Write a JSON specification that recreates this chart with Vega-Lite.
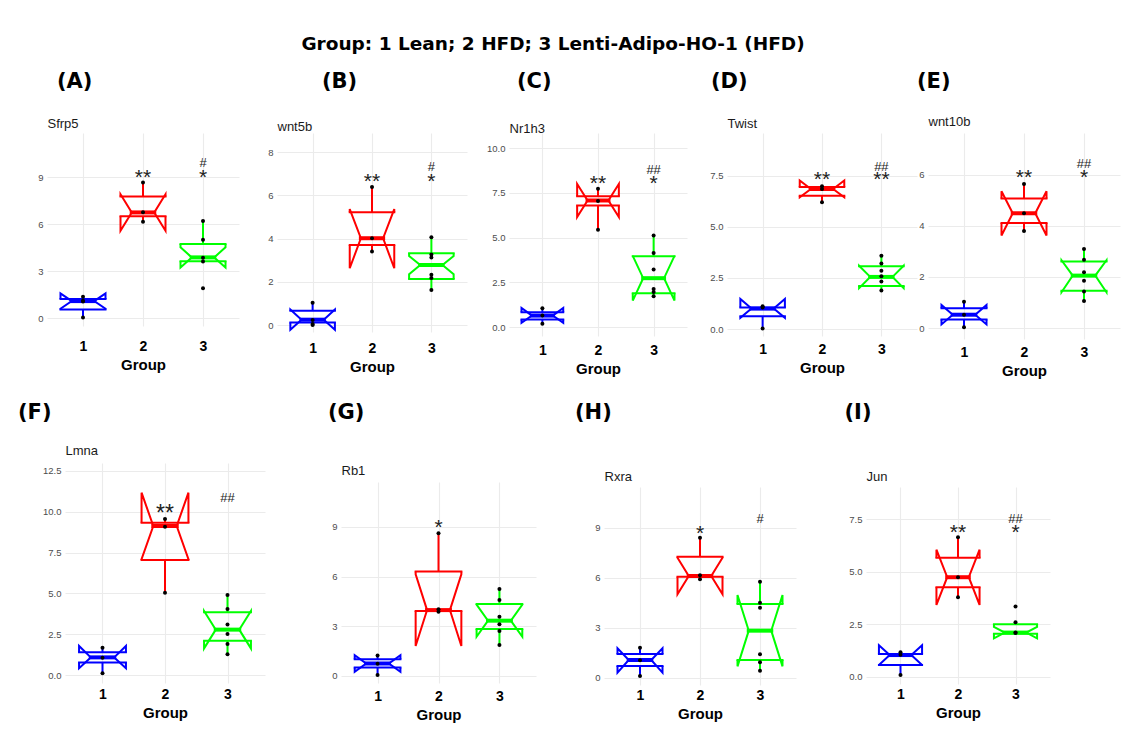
{
"$schema": "https://vega.github.io/schema/vega-lite/v6.json",
"padding": {"left": 18, "top": 34, "right": 5, "bottom": 5},
"background": "white",
"title": {"text": "Group: 1 Lean; 2 HFD; 3 Lenti-Adipo-HO-1 (HFD)", "anchor": "middle", "frame": "bounds", "dx": -16, "fontSize": 18.5, "font": "DejaVu Sans", "fontWeight": "bold", "offset": 18, "color": "#000000"},
"datasets": {
"box": [
{"p":"A","g":1,"lo":0.05,"q1":0.55,"nl":0.59,"med":1.08,"nu":1.57,"q3":1.21,"hi":1.36},
{"p":"A","g":2,"lo":6.15,"q1":6.49,"nl":5.57,"med":6.74,"nu":7.9,"q3":7.75,"hi":8.66},
{"p":"A","g":3,"lo":3.6,"q1":3.62,"nl":3.23,"med":3.87,"nu":4.51,"q3":4.72,"hi":6.19},
{"p":"B","g":1,"lo":0.0,"q1":0.12,"nl":-0.22,"med":0.25,"nu":0.72,"q3":0.66,"hi":1.03},
{"p":"B","g":2,"lo":3.4,"q1":3.71,"nl":2.63,"med":4.02,"nu":5.37,"q3":5.22,"hi":6.39},
{"p":"B","g":3,"lo":1.62,"q1":2.13,"nl":2.35,"med":2.78,"nu":3.2,"q3":3.33,"hi":4.06},
{"p":"C","g":1,"lo":0.19,"q1":0.43,"nl":0.24,"med":0.65,"nu":1.08,"q3":0.84,"hi":1.06},
{"p":"C","g":2,"lo":5.44,"q1":6.8,"nl":6.16,"med":7.08,"nu":8.0,"q3":7.32,"hi":7.73},
{"p":"C","g":3,"lo":1.73,"q1":1.9,"nl":1.49,"med":2.74,"nu":3.99,"q3":3.97,"hi":5.12},
{"p":"D","g":1,"lo":0.03,"q1":0.62,"nl":0.55,"med":1.0,"nu":1.47,"q3":1.06,"hi":1.11},
{"p":"D","g":2,"lo":6.2,"q1":6.52,"nl":6.45,"med":6.85,"nu":7.27,"q3":6.95,"hi":6.98},
{"p":"D","g":3,"lo":1.88,"q1":2.1,"nl":2.0,"med":2.55,"nu":3.1,"q3":3.07,"hi":3.59},
{"p":"E","g":1,"lo":0.03,"q1":0.33,"nl":0.14,"med":0.52,"nu":0.9,"q3":0.77,"hi":1.03},
{"p":"E","g":2,"lo":3.8,"q1":4.11,"nl":3.62,"med":4.49,"nu":5.35,"q3":5.07,"hi":5.63},
{"p":"E","g":3,"lo":1.06,"q1":1.46,"nl":1.4,"med":2.05,"nu":2.65,"q3":2.6,"hi":3.09},
{"p":"F","g":1,"lo":0.1,"q1":0.76,"nl":0.41,"med":1.08,"nu":1.78,"q3":1.39,"hi":1.67},
{"p":"F","g":2,"lo":5.04,"q1":7.05,"nl":7.09,"med":9.13,"nu":11.17,"q3":9.33,"hi":9.56},
{"p":"F","g":3,"lo":1.27,"q1":2.1,"nl":1.63,"med":2.78,"nu":3.92,"q3":3.84,"hi":4.9},
{"p":"G","g":1,"lo":0.08,"q1":0.5,"nl":0.24,"med":0.74,"nu":1.24,"q3":0.99,"hi":1.22},
{"p":"G","g":2,"lo":3.87,"q1":3.91,"nl":1.8,"med":3.97,"nu":6.14,"q3":6.3,"hi":8.62},
{"p":"G","g":3,"lo":1.86,"q1":2.82,"nl":2.36,"med":3.33,"nu":4.3,"q3":4.34,"hi":5.25},
{"p":"H","g":1,"lo":0.1,"q1":0.7,"nl":0.3,"med":1.06,"nu":1.76,"q3":1.42,"hi":1.8},
{"p":"H","g":2,"lo":5.9,"q1":6.05,"nl":5.0,"med":6.1,"nu":7.2,"q3":7.26,"hi":8.4},
{"p":"H","g":3,"lo":0.42,"q1":1.06,"nl":0.68,"med":2.82,"nu":4.96,"q3":4.42,"hi":5.76},
{"p":"I","g":1,"lo":0.08,"q1":0.56,"nl":0.56,"med":1.03,"nu":1.5,"q3":1.08,"hi":1.16},
{"p":"I","g":2,"lo":3.78,"q1":4.26,"nl":3.42,"med":4.74,"nu":6.05,"q3":5.67,"hi":6.64},
{"p":"I","g":3,"lo":2.05,"q1":2.05,"nl":1.83,"med":2.1,"nu":2.37,"q3":2.5,"hi":2.59}
],
"pts": [
{"p":"A","g":1,"y":0.04},{"p":"A","g":1,"y":1.06},{"p":"A","g":1,"y":1.1},{"p":"A","g":1,"y":1.35},
{"p":"A","g":2,"y":6.15},{"p":"A","g":2,"y":6.75},{"p":"A","g":2,"y":8.65},
{"p":"A","g":3,"y":1.9},{"p":"A","g":3,"y":3.6},{"p":"A","g":3,"y":3.85},{"p":"A","g":3,"y":5.0},{"p":"A","g":3,"y":6.2},
{"p":"B","g":1,"y":0.0},{"p":"B","g":1,"y":0.05},{"p":"B","g":1,"y":0.23},{"p":"B","g":1,"y":1.03},
{"p":"B","g":2,"y":3.4},{"p":"B","g":2,"y":4.02},{"p":"B","g":2,"y":6.39},
{"p":"B","g":3,"y":1.62},{"p":"B","g":3,"y":2.18},{"p":"B","g":3,"y":2.33},{"p":"B","g":3,"y":3.13},{"p":"B","g":3,"y":3.27},{"p":"B","g":3,"y":4.06},
{"p":"C","g":1,"y":0.19},{"p":"C","g":1,"y":0.65},{"p":"C","g":1,"y":1.06},
{"p":"C","g":2,"y":5.44},{"p":"C","g":2,"y":7.05},{"p":"C","g":2,"y":7.73},
{"p":"C","g":3,"y":1.73},{"p":"C","g":3,"y":1.97},{"p":"C","g":3,"y":2.14},{"p":"C","g":3,"y":3.22},{"p":"C","g":3,"y":4.15},{"p":"C","g":3,"y":5.12},
{"p":"D","g":1,"y":0.03},{"p":"D","g":1,"y":1.05},{"p":"D","g":1,"y":1.11},
{"p":"D","g":2,"y":6.2},{"p":"D","g":2,"y":6.85},{"p":"D","g":2,"y":6.98},
{"p":"D","g":3,"y":1.88},{"p":"D","g":3,"y":2.33},{"p":"D","g":3,"y":2.58},{"p":"D","g":3,"y":2.85},{"p":"D","g":3,"y":3.21},{"p":"D","g":3,"y":3.59},
{"p":"E","g":1,"y":0.03},{"p":"E","g":1,"y":0.52},{"p":"E","g":1,"y":1.03},
{"p":"E","g":2,"y":3.8},{"p":"E","g":2,"y":4.49},{"p":"E","g":2,"y":5.63},
{"p":"E","g":3,"y":1.06},{"p":"E","g":3,"y":1.43},{"p":"E","g":3,"y":1.85},{"p":"E","g":3,"y":2.18},{"p":"E","g":3,"y":2.67},{"p":"E","g":3,"y":3.09},
{"p":"F","g":1,"y":0.1},{"p":"F","g":1,"y":1.05},{"p":"F","g":1,"y":1.67},
{"p":"F","g":2,"y":5.04},{"p":"F","g":2,"y":9.09},{"p":"F","g":2,"y":9.56},
{"p":"F","g":3,"y":1.27},{"p":"F","g":3,"y":1.9},{"p":"F","g":3,"y":2.51},{"p":"F","g":3,"y":3.1},{"p":"F","g":3,"y":4.04},{"p":"F","g":3,"y":4.9},
{"p":"G","g":1,"y":0.05},{"p":"G","g":1,"y":0.72},{"p":"G","g":1,"y":1.22},
{"p":"G","g":2,"y":3.87},{"p":"G","g":2,"y":4.02},{"p":"G","g":2,"y":8.62},
{"p":"G","g":3,"y":1.86},{"p":"G","g":3,"y":2.7},{"p":"G","g":3,"y":3.11},{"p":"G","g":3,"y":3.57},{"p":"G","g":3,"y":4.58},{"p":"G","g":3,"y":5.25},
{"p":"H","g":1,"y":0.1},{"p":"H","g":1,"y":1.05},{"p":"H","g":1,"y":1.8},
{"p":"H","g":2,"y":5.9},{"p":"H","g":2,"y":6.14},{"p":"H","g":2,"y":8.4},
{"p":"H","g":3,"y":0.42},{"p":"H","g":3,"y":0.92},{"p":"H","g":3,"y":1.4},{"p":"H","g":3,"y":4.2},{"p":"H","g":3,"y":4.5},{"p":"H","g":3,"y":5.76},
{"p":"I","g":1,"y":0.08},{"p":"I","g":1,"y":1.05},{"p":"I","g":1,"y":1.16},
{"p":"I","g":2,"y":3.78},{"p":"I","g":2,"y":4.74},{"p":"I","g":2,"y":6.64},
{"p":"I","g":3,"y":2.08},{"p":"I","g":3,"y":2.1},{"p":"I","g":3,"y":2.59},{"p":"I","g":3,"y":3.34}
],
"ann": [
{"p":"A","g":2,"y":9.34,"t":"**"},{"p":"A","g":3,"y":9.94,"t":"#"},{"p":"A","g":3,"y":9.34,"t":"*"},
{"p":"B","g":2,"y":6.92,"t":"**"},{"p":"B","g":3,"y":7.35,"t":"#"},{"p":"B","g":3,"y":6.91,"t":"*"},
{"p":"C","g":2,"y":8.32,"t":"**"},{"p":"C","g":3,"y":8.85,"t":"##"},{"p":"C","g":3,"y":8.32,"t":"*"},
{"p":"D","g":2,"y":7.58,"t":"**"},{"p":"D","g":3,"y":7.96,"t":"##"},{"p":"D","g":3,"y":7.58,"t":"**"},
{"p":"E","g":2,"y":6.09,"t":"**"},{"p":"E","g":3,"y":6.44,"t":"##"},{"p":"E","g":3,"y":6.09,"t":"*"},
{"p":"F","g":2,"y":10.27,"t":"**"},{"p":"F","g":3,"y":10.89,"t":"##"},
{"p":"G","g":2,"y":9.32,"t":"*"},
{"p":"H","g":2,"y":9.0,"t":"*"},{"p":"H","g":3,"y":9.56,"t":"#"},
{"p":"I","g":2,"y":7.12,"t":"**"},{"p":"I","g":3,"y":7.55,"t":"##"},{"p":"I","g":3,"y":7.15,"t":"*"}
],
"none": []
},
"vconcat": [
{"hconcat": [
{"width": 192, "height": 193, "title": {"text": "(A)", "dx": 10, "offset": 24.6},
"layer": [
{"data": {"name": "box"}, "transform": [{"filter": "datum.p === 'A'"}, {"fold": ["lo","hi"], "as": ["k","v"]}, {"calculate": "datum.k === 'lo' ? datum.q1 : datum.q3", "as": "b"}],
"mark": {"type": "rule", "strokeWidth": 2},
"encoding": {"x": {"field": "g", "type": "quantitative", "scale": {"domain": [0.4, 3.6], "nice": false, "zero": false}, "axis": {"values": [1,2,3], "format": "d", "title": "Group", "labelPadding": 13}},
"y": {"field": "v", "type": "quantitative", "scale": {"domain": [-0.51, 11.81], "nice": false, "zero": false}, "axis": {"values": [0,1.5,3,4.5,6,7.5,9,10.5], "format": "d", "labelExpr": "indexof([0,3,6,9], datum.value) >= 0 ? datum.label : ''", "gridWidth": {"condition": {"test": "indexof([0,3,6,9], datum.value) < 0", "value": 0.55}, "value": 1.1}, "title": "Sfrp5", "titleX": 0, "titleY": -6, "minExtent": 29}},
"y2": {"field": "b"},
"color": {"field": "g", "type": "nominal", "scale": {"domain": [1,2,3], "range": ["#0000FF","#FF0000","#00FF00"]}, "legend": null}}},
{"data": {"name": "box"}, "transform": [{"filter": "datum.p === 'A'"}, {"fold": ["q1","nl","med","nu","q3"], "as": ["k","v"]}, {"calculate": "[-1, 1]", "as": "s"}, {"flatten": ["s"]}, {"calculate": "datum.g + datum.s * (datum.k === 'med' ? 0.1875 : 0.375)", "as": "xx"}, {"calculate": "indexof(['q1','nl','med','nu','q3'], datum.k)", "as": "o"}],
"mark": {"type": "line", "strokeWidth": 2, "strokeJoin": "miter"},
"encoding": {"x": {"field": "xx", "type": "quantitative", "scale": {"domain": [0.4, 3.6], "nice": false, "zero": false}},
"y": {"field": "v", "type": "quantitative", "scale": {"domain": [-0.51, 11.81], "nice": false, "zero": false}},
"order": {"field": "o", "type": "quantitative"}, "detail": {"field": "s", "type": "nominal"},
"color": {"field": "g", "type": "nominal", "scale": {"domain": [1,2,3], "range": ["#0000FF","#FF0000","#00FF00"]}, "legend": null}}},
{"data": {"name": "box"}, "transform": [{"filter": "datum.p === 'A'"}, {"fold": ["q1","q3","med"], "as": ["k","v"]}, {"calculate": "datum.k === 'med' ? 0.1875 : 0.375", "as": "hw"}, {"calculate": "datum.g - datum.hw", "as": "xl"}, {"calculate": "datum.g + datum.hw", "as": "xr"}],
"mark": {"type": "rule", "strokeCap": "square"},
"encoding": {"x": {"field": "xl", "type": "quantitative", "scale": {"domain": [0.4, 3.6], "nice": false, "zero": false}}, "x2": {"field": "xr"},
"y": {"field": "v", "type": "quantitative", "scale": {"domain": [-0.51, 11.81], "nice": false, "zero": false}},
"strokeWidth": {"condition": {"test": "datum.k === 'med'", "value": 4}, "value": 2},
"color": {"field": "g", "type": "nominal", "scale": {"domain": [1,2,3], "range": ["#0000FF","#FF0000","#00FF00"]}, "legend": null}}},
{"data": {"name": "pts"}, "transform": [{"filter": "datum.p === 'A'"}],
"mark": {"type": "circle", "size": 16, "color": "#000000", "opacity": 1},
"encoding": {"x": {"field": "g", "type": "quantitative", "scale": {"domain": [0.4, 3.6], "nice": false, "zero": false}},
"y": {"field": "y", "type": "quantitative", "scale": {"domain": [-0.51, 11.81], "nice": false, "zero": false}}}},
{"data": {"name": "ann"}, "transform": [{"filter": "datum.p === 'A' && indexof(datum.t, '*') >= 0"}],
"mark": {"type": "text", "font": "Liberation Sans", "fontSize": 21, "baseline": "alphabetic", "dy": 12, "color": "#222222"},
"encoding": {"x": {"field": "g", "type": "quantitative", "scale": {"domain": [0.4, 3.6], "nice": false, "zero": false}},
"y": {"field": "y", "type": "quantitative", "scale": {"domain": [-0.51, 11.81], "nice": false, "zero": false}}, "text": {"field": "t"}}},
{"data": {"name": "ann"}, "transform": [{"filter": "datum.p === 'A' && indexof(datum.t, '#') >= 0"}],
"mark": {"type": "text", "font": "Liberation Sans", "fontSize": 13, "baseline": "alphabetic", "dy": 4.7, "color": "#222222"},
"encoding": {"x": {"field": "g", "type": "quantitative", "scale": {"domain": [0.4, 3.6], "nice": false, "zero": false}},
"y": {"field": "y", "type": "quantitative", "scale": {"domain": [-0.51, 11.81], "nice": false, "zero": false}}, "text": {"field": "t"}}}
]},
{"width": 190, "height": 199, "title": {"text": "(B)", "dx": 45, "offset": 27.6},
"layer": [
{"data": {"name": "box"}, "transform": [{"filter": "datum.p === 'B'"}, {"fold": ["lo","hi"], "as": ["k","v"]}, {"calculate": "datum.k === 'lo' ? datum.q1 : datum.q3", "as": "b"}],
"mark": {"type": "rule", "strokeWidth": 2},
"encoding": {"x": {"field": "g", "type": "quantitative", "scale": {"domain": [0.4, 3.6], "nice": false, "zero": false}, "axis": {"values": [1,2,3], "format": "d", "title": "Group", "labelPadding": 9}},
"y": {"field": "v", "type": "quantitative", "scale": {"domain": [-0.32, 8.89], "nice": false, "zero": false}, "axis": {"values": [0,1,2,3,4,5,6,7,8], "format": "d", "labelExpr": "indexof([0,2,4,6,8], datum.value) >= 0 ? datum.label : ''", "gridWidth": {"condition": {"test": "indexof([0,2,4,6,8], datum.value) < 0", "value": 0.55}, "value": 1.1}, "title": "wnt5b", "titleX": 0, "titleY": -3, "minExtent": 38}},
"y2": {"field": "b"},
"color": {"field": "g", "type": "nominal", "scale": {"domain": [1,2,3], "range": ["#0000FF","#FF0000","#00FF00"]}, "legend": null}}},
{"data": {"name": "box"}, "transform": [{"filter": "datum.p === 'B'"}, {"fold": ["q1","nl","med","nu","q3"], "as": ["k","v"]}, {"calculate": "[-1, 1]", "as": "s"}, {"flatten": ["s"]}, {"calculate": "datum.g + datum.s * (datum.k === 'med' ? 0.1875 : 0.375)", "as": "xx"}, {"calculate": "indexof(['q1','nl','med','nu','q3'], datum.k)", "as": "o"}],
"mark": {"type": "line", "strokeWidth": 2, "strokeJoin": "miter"},
"encoding": {"x": {"field": "xx", "type": "quantitative", "scale": {"domain": [0.4, 3.6], "nice": false, "zero": false}},
"y": {"field": "v", "type": "quantitative", "scale": {"domain": [-0.32, 8.89], "nice": false, "zero": false}},
"order": {"field": "o", "type": "quantitative"}, "detail": {"field": "s", "type": "nominal"},
"color": {"field": "g", "type": "nominal", "scale": {"domain": [1,2,3], "range": ["#0000FF","#FF0000","#00FF00"]}, "legend": null}}},
{"data": {"name": "box"}, "transform": [{"filter": "datum.p === 'B'"}, {"fold": ["q1","q3","med"], "as": ["k","v"]}, {"calculate": "datum.k === 'med' ? 0.1875 : 0.375", "as": "hw"}, {"calculate": "datum.g - datum.hw", "as": "xl"}, {"calculate": "datum.g + datum.hw", "as": "xr"}],
"mark": {"type": "rule", "strokeCap": "square"},
"encoding": {"x": {"field": "xl", "type": "quantitative", "scale": {"domain": [0.4, 3.6], "nice": false, "zero": false}}, "x2": {"field": "xr"},
"y": {"field": "v", "type": "quantitative", "scale": {"domain": [-0.32, 8.89], "nice": false, "zero": false}},
"strokeWidth": {"condition": {"test": "datum.k === 'med'", "value": 4}, "value": 2},
"color": {"field": "g", "type": "nominal", "scale": {"domain": [1,2,3], "range": ["#0000FF","#FF0000","#00FF00"]}, "legend": null}}},
{"data": {"name": "pts"}, "transform": [{"filter": "datum.p === 'B'"}],
"mark": {"type": "circle", "size": 16, "color": "#000000", "opacity": 1},
"encoding": {"x": {"field": "g", "type": "quantitative", "scale": {"domain": [0.4, 3.6], "nice": false, "zero": false}},
"y": {"field": "y", "type": "quantitative", "scale": {"domain": [-0.32, 8.89], "nice": false, "zero": false}}}},
{"data": {"name": "ann"}, "transform": [{"filter": "datum.p === 'B' && indexof(datum.t, '*') >= 0"}],
"mark": {"type": "text", "font": "Liberation Sans", "fontSize": 21, "baseline": "alphabetic", "dy": 12, "color": "#222222"},
"encoding": {"x": {"field": "g", "type": "quantitative", "scale": {"domain": [0.4, 3.6], "nice": false, "zero": false}},
"y": {"field": "y", "type": "quantitative", "scale": {"domain": [-0.32, 8.89], "nice": false, "zero": false}}, "text": {"field": "t"}}},
{"data": {"name": "ann"}, "transform": [{"filter": "datum.p === 'B' && indexof(datum.t, '#') >= 0"}],
"mark": {"type": "text", "font": "Liberation Sans", "fontSize": 13, "baseline": "alphabetic", "dy": 4.7, "color": "#222222"},
"encoding": {"x": {"field": "g", "type": "quantitative", "scale": {"domain": [0.4, 3.6], "nice": false, "zero": false}},
"y": {"field": "y", "type": "quantitative", "scale": {"domain": [-0.32, 8.89], "nice": false, "zero": false}}, "text": {"field": "t"}}}
]},
{"width": 178, "height": 203, "title": {"text": "(C)", "dx": 8, "offset": 29.6},
"layer": [
{"data": {"name": "box"}, "transform": [{"filter": "datum.p === 'C'"}, {"fold": ["lo","hi"], "as": ["k","v"]}, {"calculate": "datum.k === 'lo' ? datum.q1 : datum.q3", "as": "b"}],
"mark": {"type": "rule", "strokeWidth": 2},
"encoding": {"x": {"field": "g", "type": "quantitative", "scale": {"domain": [0.4, 3.6], "nice": false, "zero": false}, "axis": {"values": [1,2,3], "format": "d", "title": "Group", "labelPadding": 7}},
"y": {"field": "v", "type": "quantitative", "scale": {"domain": [-0.49, 10.85], "nice": false, "zero": false}, "axis": {"values": [0,1.25,2.5,3.75,5,6.25,7.5,8.75,10], "format": ".1f", "labelExpr": "indexof([0,2.5,5,7.5,10], datum.value) >= 0 ? datum.label : ''", "gridWidth": {"condition": {"test": "indexof([0,2.5,5,7.5,10], datum.value) < 0", "value": 0.55}, "value": 1.1}, "title": "Nr1h3", "titleX": 0, "titleY": -1, "minExtent": 42}},
"y2": {"field": "b"},
"color": {"field": "g", "type": "nominal", "scale": {"domain": [1,2,3], "range": ["#0000FF","#FF0000","#00FF00"]}, "legend": null}}},
{"data": {"name": "box"}, "transform": [{"filter": "datum.p === 'C'"}, {"fold": ["q1","nl","med","nu","q3"], "as": ["k","v"]}, {"calculate": "[-1, 1]", "as": "s"}, {"flatten": ["s"]}, {"calculate": "datum.g + datum.s * (datum.k === 'med' ? 0.1875 : 0.375)", "as": "xx"}, {"calculate": "indexof(['q1','nl','med','nu','q3'], datum.k)", "as": "o"}],
"mark": {"type": "line", "strokeWidth": 2, "strokeJoin": "miter"},
"encoding": {"x": {"field": "xx", "type": "quantitative", "scale": {"domain": [0.4, 3.6], "nice": false, "zero": false}},
"y": {"field": "v", "type": "quantitative", "scale": {"domain": [-0.49, 10.85], "nice": false, "zero": false}},
"order": {"field": "o", "type": "quantitative"}, "detail": {"field": "s", "type": "nominal"},
"color": {"field": "g", "type": "nominal", "scale": {"domain": [1,2,3], "range": ["#0000FF","#FF0000","#00FF00"]}, "legend": null}}},
{"data": {"name": "box"}, "transform": [{"filter": "datum.p === 'C'"}, {"fold": ["q1","q3","med"], "as": ["k","v"]}, {"calculate": "datum.k === 'med' ? 0.1875 : 0.375", "as": "hw"}, {"calculate": "datum.g - datum.hw", "as": "xl"}, {"calculate": "datum.g + datum.hw", "as": "xr"}],
"mark": {"type": "rule", "strokeCap": "square"},
"encoding": {"x": {"field": "xl", "type": "quantitative", "scale": {"domain": [0.4, 3.6], "nice": false, "zero": false}}, "x2": {"field": "xr"},
"y": {"field": "v", "type": "quantitative", "scale": {"domain": [-0.49, 10.85], "nice": false, "zero": false}},
"strokeWidth": {"condition": {"test": "datum.k === 'med'", "value": 4}, "value": 2},
"color": {"field": "g", "type": "nominal", "scale": {"domain": [1,2,3], "range": ["#0000FF","#FF0000","#00FF00"]}, "legend": null}}},
{"data": {"name": "pts"}, "transform": [{"filter": "datum.p === 'C'"}],
"mark": {"type": "circle", "size": 16, "color": "#000000", "opacity": 1},
"encoding": {"x": {"field": "g", "type": "quantitative", "scale": {"domain": [0.4, 3.6], "nice": false, "zero": false}},
"y": {"field": "y", "type": "quantitative", "scale": {"domain": [-0.49, 10.85], "nice": false, "zero": false}}}},
{"data": {"name": "ann"}, "transform": [{"filter": "datum.p === 'C' && indexof(datum.t, '*') >= 0"}],
"mark": {"type": "text", "font": "Liberation Sans", "fontSize": 21, "baseline": "alphabetic", "dy": 12, "color": "#222222"},
"encoding": {"x": {"field": "g", "type": "quantitative", "scale": {"domain": [0.4, 3.6], "nice": false, "zero": false}},
"y": {"field": "y", "type": "quantitative", "scale": {"domain": [-0.49, 10.85], "nice": false, "zero": false}}, "text": {"field": "t"}}},
{"data": {"name": "ann"}, "transform": [{"filter": "datum.p === 'C' && indexof(datum.t, '#') >= 0"}],
"mark": {"type": "text", "font": "Liberation Sans", "fontSize": 13, "baseline": "alphabetic", "dy": 4.7, "color": "#222222"},
"encoding": {"x": {"field": "g", "type": "quantitative", "scale": {"domain": [0.4, 3.6], "nice": false, "zero": false}},
"y": {"field": "y", "type": "quantitative", "scale": {"domain": [-0.49, 10.85], "nice": false, "zero": false}}, "text": {"field": "t"}}}
]},
{"width": 190, "height": 203, "title": {"text": "(D)", "dx": -16, "offset": 24.6},
"layer": [
{"data": {"name": "box"}, "transform": [{"filter": "datum.p === 'D'"}, {"fold": ["lo","hi"], "as": ["k","v"]}, {"calculate": "datum.k === 'lo' ? datum.q1 : datum.q3", "as": "b"}],
"mark": {"type": "rule", "strokeWidth": 2},
"encoding": {"x": {"field": "g", "type": "quantitative", "scale": {"domain": [0.4, 3.6], "nice": false, "zero": false}, "axis": {"values": [1,2,3], "format": "d", "title": "Group", "labelPadding": 6}},
"y": {"field": "v", "type": "quantitative", "scale": {"domain": [-0.34, 9.59], "nice": false, "zero": false}, "axis": {"values": [0,1.25,2.5,3.75,5,6.25,7.5,8.75], "format": ".1f", "labelExpr": "indexof([0,2.5,5,7.5], datum.value) >= 0 ? datum.label : ''", "gridWidth": {"condition": {"test": "indexof([0,2.5,5,7.5], datum.value) < 0", "value": 0.55}, "value": 1.1}, "title": "Twist", "titleX": 0, "titleY": -6, "minExtent": 40}},
"y2": {"field": "b"},
"color": {"field": "g", "type": "nominal", "scale": {"domain": [1,2,3], "range": ["#0000FF","#FF0000","#00FF00"]}, "legend": null}}},
{"data": {"name": "box"}, "transform": [{"filter": "datum.p === 'D'"}, {"fold": ["q1","nl","med","nu","q3"], "as": ["k","v"]}, {"calculate": "[-1, 1]", "as": "s"}, {"flatten": ["s"]}, {"calculate": "datum.g + datum.s * (datum.k === 'med' ? 0.1875 : 0.375)", "as": "xx"}, {"calculate": "indexof(['q1','nl','med','nu','q3'], datum.k)", "as": "o"}],
"mark": {"type": "line", "strokeWidth": 2, "strokeJoin": "miter"},
"encoding": {"x": {"field": "xx", "type": "quantitative", "scale": {"domain": [0.4, 3.6], "nice": false, "zero": false}},
"y": {"field": "v", "type": "quantitative", "scale": {"domain": [-0.34, 9.59], "nice": false, "zero": false}},
"order": {"field": "o", "type": "quantitative"}, "detail": {"field": "s", "type": "nominal"},
"color": {"field": "g", "type": "nominal", "scale": {"domain": [1,2,3], "range": ["#0000FF","#FF0000","#00FF00"]}, "legend": null}}},
{"data": {"name": "box"}, "transform": [{"filter": "datum.p === 'D'"}, {"fold": ["q1","q3","med"], "as": ["k","v"]}, {"calculate": "datum.k === 'med' ? 0.1875 : 0.375", "as": "hw"}, {"calculate": "datum.g - datum.hw", "as": "xl"}, {"calculate": "datum.g + datum.hw", "as": "xr"}],
"mark": {"type": "rule", "strokeCap": "square"},
"encoding": {"x": {"field": "xl", "type": "quantitative", "scale": {"domain": [0.4, 3.6], "nice": false, "zero": false}}, "x2": {"field": "xr"},
"y": {"field": "v", "type": "quantitative", "scale": {"domain": [-0.34, 9.59], "nice": false, "zero": false}},
"strokeWidth": {"condition": {"test": "datum.k === 'med'", "value": 4}, "value": 2},
"color": {"field": "g", "type": "nominal", "scale": {"domain": [1,2,3], "range": ["#0000FF","#FF0000","#00FF00"]}, "legend": null}}},
{"data": {"name": "pts"}, "transform": [{"filter": "datum.p === 'D'"}],
"mark": {"type": "circle", "size": 16, "color": "#000000", "opacity": 1},
"encoding": {"x": {"field": "g", "type": "quantitative", "scale": {"domain": [0.4, 3.6], "nice": false, "zero": false}},
"y": {"field": "y", "type": "quantitative", "scale": {"domain": [-0.34, 9.59], "nice": false, "zero": false}}}},
{"data": {"name": "ann"}, "transform": [{"filter": "datum.p === 'D' && indexof(datum.t, '*') >= 0"}],
"mark": {"type": "text", "font": "Liberation Sans", "fontSize": 21, "baseline": "alphabetic", "dy": 12, "color": "#222222"},
"encoding": {"x": {"field": "g", "type": "quantitative", "scale": {"domain": [0.4, 3.6], "nice": false, "zero": false}},
"y": {"field": "y", "type": "quantitative", "scale": {"domain": [-0.34, 9.59], "nice": false, "zero": false}}, "text": {"field": "t"}}},
{"data": {"name": "ann"}, "transform": [{"filter": "datum.p === 'D' && indexof(datum.t, '#') >= 0"}],
"mark": {"type": "text", "font": "Liberation Sans", "fontSize": 13, "baseline": "alphabetic", "dy": 4.7, "color": "#222222"},
"encoding": {"x": {"field": "g", "type": "quantitative", "scale": {"domain": [0.4, 3.6], "nice": false, "zero": false}},
"y": {"field": "y", "type": "quantitative", "scale": {"domain": [-0.34, 9.59], "nice": false, "zero": false}}, "text": {"field": "t"}}}
]},
{"width": 192, "height": 206, "title": {"text": "(E)", "dx": -11, "offset": 22.6},
"layer": [
{"data": {"name": "box"}, "transform": [{"filter": "datum.p === 'E'"}, {"fold": ["lo","hi"], "as": ["k","v"]}, {"calculate": "datum.k === 'lo' ? datum.q1 : datum.q3", "as": "b"}],
"mark": {"type": "rule", "strokeWidth": 2},
"encoding": {"x": {"field": "g", "type": "quantitative", "scale": {"domain": [0.4, 3.6], "nice": false, "zero": false}, "axis": {"values": [1,2,3], "format": "d", "title": "Group", "labelPadding": 6}},
"y": {"field": "v", "type": "quantitative", "scale": {"domain": [-0.43, 7.63], "nice": false, "zero": false}, "axis": {"values": [0,1,2,3,4,5,6,7], "format": "d", "labelExpr": "indexof([0,2,4,6], datum.value) >= 0 ? datum.label : ''", "gridWidth": {"condition": {"test": "indexof([0,2,4,6], datum.value) < 0", "value": 0.55}, "value": 1.1}, "title": "wnt10b", "titleX": 0, "titleY": -8, "minExtent": 11}},
"y2": {"field": "b"},
"color": {"field": "g", "type": "nominal", "scale": {"domain": [1,2,3], "range": ["#0000FF","#FF0000","#00FF00"]}, "legend": null}}},
{"data": {"name": "box"}, "transform": [{"filter": "datum.p === 'E'"}, {"fold": ["q1","nl","med","nu","q3"], "as": ["k","v"]}, {"calculate": "[-1, 1]", "as": "s"}, {"flatten": ["s"]}, {"calculate": "datum.g + datum.s * (datum.k === 'med' ? 0.1875 : 0.375)", "as": "xx"}, {"calculate": "indexof(['q1','nl','med','nu','q3'], datum.k)", "as": "o"}],
"mark": {"type": "line", "strokeWidth": 2, "strokeJoin": "miter"},
"encoding": {"x": {"field": "xx", "type": "quantitative", "scale": {"domain": [0.4, 3.6], "nice": false, "zero": false}},
"y": {"field": "v", "type": "quantitative", "scale": {"domain": [-0.43, 7.63], "nice": false, "zero": false}},
"order": {"field": "o", "type": "quantitative"}, "detail": {"field": "s", "type": "nominal"},
"color": {"field": "g", "type": "nominal", "scale": {"domain": [1,2,3], "range": ["#0000FF","#FF0000","#00FF00"]}, "legend": null}}},
{"data": {"name": "box"}, "transform": [{"filter": "datum.p === 'E'"}, {"fold": ["q1","q3","med"], "as": ["k","v"]}, {"calculate": "datum.k === 'med' ? 0.1875 : 0.375", "as": "hw"}, {"calculate": "datum.g - datum.hw", "as": "xl"}, {"calculate": "datum.g + datum.hw", "as": "xr"}],
"mark": {"type": "rule", "strokeCap": "square"},
"encoding": {"x": {"field": "xl", "type": "quantitative", "scale": {"domain": [0.4, 3.6], "nice": false, "zero": false}}, "x2": {"field": "xr"},
"y": {"field": "v", "type": "quantitative", "scale": {"domain": [-0.43, 7.63], "nice": false, "zero": false}},
"strokeWidth": {"condition": {"test": "datum.k === 'med'", "value": 4}, "value": 2},
"color": {"field": "g", "type": "nominal", "scale": {"domain": [1,2,3], "range": ["#0000FF","#FF0000","#00FF00"]}, "legend": null}}},
{"data": {"name": "pts"}, "transform": [{"filter": "datum.p === 'E'"}],
"mark": {"type": "circle", "size": 16, "color": "#000000", "opacity": 1},
"encoding": {"x": {"field": "g", "type": "quantitative", "scale": {"domain": [0.4, 3.6], "nice": false, "zero": false}},
"y": {"field": "y", "type": "quantitative", "scale": {"domain": [-0.43, 7.63], "nice": false, "zero": false}}}},
{"data": {"name": "ann"}, "transform": [{"filter": "datum.p === 'E' && indexof(datum.t, '*') >= 0"}],
"mark": {"type": "text", "font": "Liberation Sans", "fontSize": 21, "baseline": "alphabetic", "dy": 12, "color": "#222222"},
"encoding": {"x": {"field": "g", "type": "quantitative", "scale": {"domain": [0.4, 3.6], "nice": false, "zero": false}},
"y": {"field": "y", "type": "quantitative", "scale": {"domain": [-0.43, 7.63], "nice": false, "zero": false}}, "text": {"field": "t"}}},
{"data": {"name": "ann"}, "transform": [{"filter": "datum.p === 'E' && indexof(datum.t, '#') >= 0"}],
"mark": {"type": "text", "font": "Liberation Sans", "fontSize": 13, "baseline": "alphabetic", "dy": 4.7, "color": "#222222"},
"encoding": {"x": {"field": "g", "type": "quantitative", "scale": {"domain": [0.4, 3.6], "nice": false, "zero": false}},
"y": {"field": "y", "type": "quantitative", "scale": {"domain": [-0.43, 7.63], "nice": false, "zero": false}}, "text": {"field": "t"}}}
]}
], "spacing": 0},
{"hconcat": [
{"width": 5, "height": 1, "title": {"text": "(F)", "dx": -29, "offset": 40.1}, "data": {"name": "none"}, "mark": "point"},
{"width": 200, "height": 220,
"layer": [
{"data": {"name": "box"}, "transform": [{"filter": "datum.p === 'F'"}, {"fold": ["lo","hi"], "as": ["k","v"]}, {"calculate": "datum.k === 'lo' ? datum.q1 : datum.q3", "as": "b"}],
"mark": {"type": "rule", "strokeWidth": 2},
"encoding": {"x": {"field": "g", "type": "quantitative", "scale": {"domain": [0.4, 3.6], "nice": false, "zero": false}, "axis": {"values": [1,2,3], "format": "d", "title": "Group", "labelPadding": 4}},
"y": {"field": "v", "type": "quantitative", "scale": {"domain": [-0.49, 12.99], "nice": false, "zero": false}, "axis": {"values": [0,1.25,2.5,3.75,5,6.25,7.5,8.75,10,11.25,12.5], "format": ".1f", "labelExpr": "indexof([0,2.5,5,7.5,10,12.5], datum.value) >= 0 ? datum.label : ''", "gridWidth": {"condition": {"test": "indexof([0,2.5,5,7.5,10,12.5], datum.value) < 0", "value": 0.55}, "value": 1.1}, "title": "Lmna", "titleX": 0, "titleY": -9, "minExtent": 22.5}},
"y2": {"field": "b"},
"color": {"field": "g", "type": "nominal", "scale": {"domain": [1,2,3], "range": ["#0000FF","#FF0000","#00FF00"]}, "legend": null}}},
{"data": {"name": "box"}, "transform": [{"filter": "datum.p === 'F'"}, {"fold": ["q1","nl","med","nu","q3"], "as": ["k","v"]}, {"calculate": "[-1, 1]", "as": "s"}, {"flatten": ["s"]}, {"calculate": "datum.g + datum.s * (datum.k === 'med' ? 0.1875 : 0.375)", "as": "xx"}, {"calculate": "indexof(['q1','nl','med','nu','q3'], datum.k)", "as": "o"}],
"mark": {"type": "line", "strokeWidth": 2, "strokeJoin": "miter"},
"encoding": {"x": {"field": "xx", "type": "quantitative", "scale": {"domain": [0.4, 3.6], "nice": false, "zero": false}},
"y": {"field": "v", "type": "quantitative", "scale": {"domain": [-0.49, 12.99], "nice": false, "zero": false}},
"order": {"field": "o", "type": "quantitative"}, "detail": {"field": "s", "type": "nominal"},
"color": {"field": "g", "type": "nominal", "scale": {"domain": [1,2,3], "range": ["#0000FF","#FF0000","#00FF00"]}, "legend": null}}},
{"data": {"name": "box"}, "transform": [{"filter": "datum.p === 'F'"}, {"fold": ["q1","q3","med"], "as": ["k","v"]}, {"calculate": "datum.k === 'med' ? 0.1875 : 0.375", "as": "hw"}, {"calculate": "datum.g - datum.hw", "as": "xl"}, {"calculate": "datum.g + datum.hw", "as": "xr"}],
"mark": {"type": "rule", "strokeCap": "square"},
"encoding": {"x": {"field": "xl", "type": "quantitative", "scale": {"domain": [0.4, 3.6], "nice": false, "zero": false}}, "x2": {"field": "xr"},
"y": {"field": "v", "type": "quantitative", "scale": {"domain": [-0.49, 12.99], "nice": false, "zero": false}},
"strokeWidth": {"condition": {"test": "datum.k === 'med'", "value": 4}, "value": 2},
"color": {"field": "g", "type": "nominal", "scale": {"domain": [1,2,3], "range": ["#0000FF","#FF0000","#00FF00"]}, "legend": null}}},
{"data": {"name": "pts"}, "transform": [{"filter": "datum.p === 'F'"}],
"mark": {"type": "circle", "size": 16, "color": "#000000", "opacity": 1},
"encoding": {"x": {"field": "g", "type": "quantitative", "scale": {"domain": [0.4, 3.6], "nice": false, "zero": false}},
"y": {"field": "y", "type": "quantitative", "scale": {"domain": [-0.49, 12.99], "nice": false, "zero": false}}}},
{"data": {"name": "ann"}, "transform": [{"filter": "datum.p === 'F' && indexof(datum.t, '*') >= 0"}],
"mark": {"type": "text", "font": "Liberation Sans", "fontSize": 23, "baseline": "alphabetic", "dy": 13.2, "color": "#222222"},
"encoding": {"x": {"field": "g", "type": "quantitative", "scale": {"domain": [0.4, 3.6], "nice": false, "zero": false}},
"y": {"field": "y", "type": "quantitative", "scale": {"domain": [-0.49, 12.99], "nice": false, "zero": false}}, "text": {"field": "t"}}},
{"data": {"name": "ann"}, "transform": [{"filter": "datum.p === 'F' && indexof(datum.t, '#') >= 0"}],
"mark": {"type": "text", "font": "Liberation Sans", "fontSize": 13, "baseline": "alphabetic", "dy": 4.7, "color": "#222222"},
"encoding": {"x": {"field": "g", "type": "quantitative", "scale": {"domain": [0.4, 3.6], "nice": false, "zero": false}},
"y": {"field": "y", "type": "quantitative", "scale": {"domain": [-0.49, 12.99], "nice": false, "zero": false}}, "text": {"field": "t"}}}
]},
{"vconcat": [
{"width": 195, "height": 0.5, "title": {"text": "(G)", "dx": -13, "offset": 40.1}, "data": {"name": "none"}, "mark": "point"},
{"width": 195, "height": 201,
"layer": [
{"data": {"name": "box"}, "transform": [{"filter": "datum.p === 'G'"}, {"fold": ["lo","hi"], "as": ["k","v"]}, {"calculate": "datum.k === 'lo' ? datum.q1 : datum.q3", "as": "b"}],
"mark": {"type": "rule", "strokeWidth": 2},
"encoding": {"x": {"field": "g", "type": "quantitative", "scale": {"domain": [0.4, 3.6], "nice": false, "zero": false}, "axis": {"values": [1,2,3], "format": "d", "title": "Group", "labelPadding": 6}},
"y": {"field": "v", "type": "quantitative", "scale": {"domain": [-0.44, 11.72], "nice": false, "zero": false}, "axis": {"values": [0,1.5,3,4.5,6,7.5,9,10.5], "format": "d", "labelExpr": "indexof([0,3,6,9], datum.value) >= 0 ? datum.label : ''", "gridWidth": {"condition": {"test": "indexof([0,3,6,9], datum.value) < 0", "value": 0.55}, "value": 1.1}, "title": "Rb1", "titleX": 0, "titleY": -8, "minExtent": 86}},
"y2": {"field": "b"},
"color": {"field": "g", "type": "nominal", "scale": {"domain": [1,2,3], "range": ["#0000FF","#FF0000","#00FF00"]}, "legend": null}}},
{"data": {"name": "box"}, "transform": [{"filter": "datum.p === 'G'"}, {"fold": ["q1","nl","med","nu","q3"], "as": ["k","v"]}, {"calculate": "[-1, 1]", "as": "s"}, {"flatten": ["s"]}, {"calculate": "datum.g + datum.s * (datum.k === 'med' ? 0.1875 : 0.375)", "as": "xx"}, {"calculate": "indexof(['q1','nl','med','nu','q3'], datum.k)", "as": "o"}],
"mark": {"type": "line", "strokeWidth": 2, "strokeJoin": "miter"},
"encoding": {"x": {"field": "xx", "type": "quantitative", "scale": {"domain": [0.4, 3.6], "nice": false, "zero": false}},
"y": {"field": "v", "type": "quantitative", "scale": {"domain": [-0.44, 11.72], "nice": false, "zero": false}},
"order": {"field": "o", "type": "quantitative"}, "detail": {"field": "s", "type": "nominal"},
"color": {"field": "g", "type": "nominal", "scale": {"domain": [1,2,3], "range": ["#0000FF","#FF0000","#00FF00"]}, "legend": null}}},
{"data": {"name": "box"}, "transform": [{"filter": "datum.p === 'G'"}, {"fold": ["q1","q3","med"], "as": ["k","v"]}, {"calculate": "datum.k === 'med' ? 0.1875 : 0.375", "as": "hw"}, {"calculate": "datum.g - datum.hw", "as": "xl"}, {"calculate": "datum.g + datum.hw", "as": "xr"}],
"mark": {"type": "rule", "strokeCap": "square"},
"encoding": {"x": {"field": "xl", "type": "quantitative", "scale": {"domain": [0.4, 3.6], "nice": false, "zero": false}}, "x2": {"field": "xr"},
"y": {"field": "v", "type": "quantitative", "scale": {"domain": [-0.44, 11.72], "nice": false, "zero": false}},
"strokeWidth": {"condition": {"test": "datum.k === 'med'", "value": 4}, "value": 2},
"color": {"field": "g", "type": "nominal", "scale": {"domain": [1,2,3], "range": ["#0000FF","#FF0000","#00FF00"]}, "legend": null}}},
{"data": {"name": "pts"}, "transform": [{"filter": "datum.p === 'G'"}],
"mark": {"type": "circle", "size": 16, "color": "#000000", "opacity": 1},
"encoding": {"x": {"field": "g", "type": "quantitative", "scale": {"domain": [0.4, 3.6], "nice": false, "zero": false}},
"y": {"field": "y", "type": "quantitative", "scale": {"domain": [-0.44, 11.72], "nice": false, "zero": false}}}},
{"data": {"name": "ann"}, "transform": [{"filter": "datum.p === 'G' && indexof(datum.t, '*') >= 0"}],
"mark": {"type": "text", "font": "Liberation Sans", "fontSize": 21, "baseline": "alphabetic", "dy": 12, "color": "#222222"},
"encoding": {"x": {"field": "g", "type": "quantitative", "scale": {"domain": [0.4, 3.6], "nice": false, "zero": false}},
"y": {"field": "y", "type": "quantitative", "scale": {"domain": [-0.44, 11.72], "nice": false, "zero": false}}, "text": {"field": "t"}}}
]}
], "spacing": 0},
{"vconcat": [
{"width": 192, "height": 6.5, "title": {"text": "(H)", "dx": -29, "offset": 40.1}, "data": {"name": "none"}, "mark": "point"},
{"width": 192, "height": 198,
"layer": [
{"data": {"name": "box"}, "transform": [{"filter": "datum.p === 'H'"}, {"fold": ["lo","hi"], "as": ["k","v"]}, {"calculate": "datum.k === 'lo' ? datum.q1 : datum.q3", "as": "b"}],
"mark": {"type": "rule", "strokeWidth": 2},
"encoding": {"x": {"field": "g", "type": "quantitative", "scale": {"domain": [0.4, 3.6], "nice": false, "zero": false}, "axis": {"values": [1,2,3], "format": "d", "title": "Group", "labelPadding": 3}},
"y": {"field": "v", "type": "quantitative", "scale": {"domain": [-0.44, 11.44], "nice": false, "zero": false}, "axis": {"values": [0,1.5,3,4.5,6,7.5,9,10.5], "format": "d", "labelExpr": "indexof([0,3,6,9], datum.value) >= 0 ? datum.label : ''", "gridWidth": {"condition": {"test": "indexof([0,3,6,9], datum.value) < 0", "value": 0.55}, "value": 1.1}, "title": "Rxra", "titleX": 0, "titleY": -7, "minExtent": 78}},
"y2": {"field": "b"},
"color": {"field": "g", "type": "nominal", "scale": {"domain": [1,2,3], "range": ["#0000FF","#FF0000","#00FF00"]}, "legend": null}}},
{"data": {"name": "box"}, "transform": [{"filter": "datum.p === 'H'"}, {"fold": ["q1","nl","med","nu","q3"], "as": ["k","v"]}, {"calculate": "[-1, 1]", "as": "s"}, {"flatten": ["s"]}, {"calculate": "datum.g + datum.s * (datum.k === 'med' ? 0.1875 : 0.375)", "as": "xx"}, {"calculate": "indexof(['q1','nl','med','nu','q3'], datum.k)", "as": "o"}],
"mark": {"type": "line", "strokeWidth": 2, "strokeJoin": "miter"},
"encoding": {"x": {"field": "xx", "type": "quantitative", "scale": {"domain": [0.4, 3.6], "nice": false, "zero": false}},
"y": {"field": "v", "type": "quantitative", "scale": {"domain": [-0.44, 11.44], "nice": false, "zero": false}},
"order": {"field": "o", "type": "quantitative"}, "detail": {"field": "s", "type": "nominal"},
"color": {"field": "g", "type": "nominal", "scale": {"domain": [1,2,3], "range": ["#0000FF","#FF0000","#00FF00"]}, "legend": null}}},
{"data": {"name": "box"}, "transform": [{"filter": "datum.p === 'H'"}, {"fold": ["q1","q3","med"], "as": ["k","v"]}, {"calculate": "datum.k === 'med' ? 0.1875 : 0.375", "as": "hw"}, {"calculate": "datum.g - datum.hw", "as": "xl"}, {"calculate": "datum.g + datum.hw", "as": "xr"}],
"mark": {"type": "rule", "strokeCap": "square"},
"encoding": {"x": {"field": "xl", "type": "quantitative", "scale": {"domain": [0.4, 3.6], "nice": false, "zero": false}}, "x2": {"field": "xr"},
"y": {"field": "v", "type": "quantitative", "scale": {"domain": [-0.44, 11.44], "nice": false, "zero": false}},
"strokeWidth": {"condition": {"test": "datum.k === 'med'", "value": 4}, "value": 2},
"color": {"field": "g", "type": "nominal", "scale": {"domain": [1,2,3], "range": ["#0000FF","#FF0000","#00FF00"]}, "legend": null}}},
{"data": {"name": "pts"}, "transform": [{"filter": "datum.p === 'H'"}],
"mark": {"type": "circle", "size": 16, "color": "#000000", "opacity": 1},
"encoding": {"x": {"field": "g", "type": "quantitative", "scale": {"domain": [0.4, 3.6], "nice": false, "zero": false}},
"y": {"field": "y", "type": "quantitative", "scale": {"domain": [-0.44, 11.44], "nice": false, "zero": false}}}},
{"data": {"name": "ann"}, "transform": [{"filter": "datum.p === 'H' && indexof(datum.t, '*') >= 0"}],
"mark": {"type": "text", "font": "Liberation Sans", "fontSize": 21, "baseline": "alphabetic", "dy": 12, "color": "#222222"},
"encoding": {"x": {"field": "g", "type": "quantitative", "scale": {"domain": [0.4, 3.6], "nice": false, "zero": false}},
"y": {"field": "y", "type": "quantitative", "scale": {"domain": [-0.44, 11.44], "nice": false, "zero": false}}, "text": {"field": "t"}}},
{"data": {"name": "ann"}, "transform": [{"filter": "datum.p === 'H' && indexof(datum.t, '#') >= 0"}],
"mark": {"type": "text", "font": "Liberation Sans", "fontSize": 13, "baseline": "alphabetic", "dy": 4.7, "color": "#222222"},
"encoding": {"x": {"field": "g", "type": "quantitative", "scale": {"domain": [0.4, 3.6], "nice": false, "zero": false}},
"y": {"field": "y", "type": "quantitative", "scale": {"domain": [-0.44, 11.44], "nice": false, "zero": false}}, "text": {"field": "t"}}}
]}
], "spacing": 0},
{"vconcat": [
{"width": 184, "height": 6.5, "title": {"text": "(I)", "dx": -21.5, "offset": 40.1}, "data": {"name": "none"}, "mark": "point"},
{"width": 184, "height": 197,
"layer": [
{"data": {"name": "box"}, "transform": [{"filter": "datum.p === 'I'"}, {"fold": ["lo","hi"], "as": ["k","v"]}, {"calculate": "datum.k === 'lo' ? datum.q1 : datum.q3", "as": "b"}],
"mark": {"type": "rule", "strokeWidth": 2},
"encoding": {"x": {"field": "g", "type": "quantitative", "scale": {"domain": [0.4, 3.6], "nice": false, "zero": false}, "axis": {"values": [1,2,3], "format": "d", "title": "Group", "labelPadding": 3}},
"y": {"field": "v", "type": "quantitative", "scale": {"domain": [-0.35, 9.04], "nice": false, "zero": false}, "axis": {"values": [0,1.25,2.5,3.75,5,6.25,7.5,8.75], "format": ".1f", "labelExpr": "indexof([0,2.5,5,7.5], datum.value) >= 0 ? datum.label : ''", "gridWidth": {"condition": {"test": "indexof([0,2.5,5,7.5], datum.value) < 0", "value": 0.55}, "value": 1.1}, "title": "Jun", "titleX": 0, "titleY": -7, "minExtent": 79.5}},
"y2": {"field": "b"},
"color": {"field": "g", "type": "nominal", "scale": {"domain": [1,2,3], "range": ["#0000FF","#FF0000","#00FF00"]}, "legend": null}}},
{"data": {"name": "box"}, "transform": [{"filter": "datum.p === 'I'"}, {"fold": ["q1","nl","med","nu","q3"], "as": ["k","v"]}, {"calculate": "[-1, 1]", "as": "s"}, {"flatten": ["s"]}, {"calculate": "datum.g + datum.s * (datum.k === 'med' ? 0.1875 : 0.375)", "as": "xx"}, {"calculate": "indexof(['q1','nl','med','nu','q3'], datum.k)", "as": "o"}],
"mark": {"type": "line", "strokeWidth": 2, "strokeJoin": "miter"},
"encoding": {"x": {"field": "xx", "type": "quantitative", "scale": {"domain": [0.4, 3.6], "nice": false, "zero": false}},
"y": {"field": "v", "type": "quantitative", "scale": {"domain": [-0.35, 9.04], "nice": false, "zero": false}},
"order": {"field": "o", "type": "quantitative"}, "detail": {"field": "s", "type": "nominal"},
"color": {"field": "g", "type": "nominal", "scale": {"domain": [1,2,3], "range": ["#0000FF","#FF0000","#00FF00"]}, "legend": null}}},
{"data": {"name": "box"}, "transform": [{"filter": "datum.p === 'I'"}, {"fold": ["q1","q3","med"], "as": ["k","v"]}, {"calculate": "datum.k === 'med' ? 0.1875 : 0.375", "as": "hw"}, {"calculate": "datum.g - datum.hw", "as": "xl"}, {"calculate": "datum.g + datum.hw", "as": "xr"}],
"mark": {"type": "rule", "strokeCap": "square"},
"encoding": {"x": {"field": "xl", "type": "quantitative", "scale": {"domain": [0.4, 3.6], "nice": false, "zero": false}}, "x2": {"field": "xr"},
"y": {"field": "v", "type": "quantitative", "scale": {"domain": [-0.35, 9.04], "nice": false, "zero": false}},
"strokeWidth": {"condition": {"test": "datum.k === 'med'", "value": 4}, "value": 2},
"color": {"field": "g", "type": "nominal", "scale": {"domain": [1,2,3], "range": ["#0000FF","#FF0000","#00FF00"]}, "legend": null}}},
{"data": {"name": "pts"}, "transform": [{"filter": "datum.p === 'I'"}],
"mark": {"type": "circle", "size": 16, "color": "#000000", "opacity": 1},
"encoding": {"x": {"field": "g", "type": "quantitative", "scale": {"domain": [0.4, 3.6], "nice": false, "zero": false}},
"y": {"field": "y", "type": "quantitative", "scale": {"domain": [-0.35, 9.04], "nice": false, "zero": false}}}},
{"data": {"name": "ann"}, "transform": [{"filter": "datum.p === 'I' && indexof(datum.t, '*') >= 0"}],
"mark": {"type": "text", "font": "Liberation Sans", "fontSize": 21, "baseline": "alphabetic", "dy": 12, "color": "#222222"},
"encoding": {"x": {"field": "g", "type": "quantitative", "scale": {"domain": [0.4, 3.6], "nice": false, "zero": false}},
"y": {"field": "y", "type": "quantitative", "scale": {"domain": [-0.35, 9.04], "nice": false, "zero": false}}, "text": {"field": "t"}}},
{"data": {"name": "ann"}, "transform": [{"filter": "datum.p === 'I' && indexof(datum.t, '#') >= 0"}],
"mark": {"type": "text", "font": "Liberation Sans", "fontSize": 13, "baseline": "alphabetic", "dy": 4.7, "color": "#222222"},
"encoding": {"x": {"field": "g", "type": "quantitative", "scale": {"domain": [0.4, 3.6], "nice": false, "zero": false}},
"y": {"field": "y", "type": "quantitative", "scale": {"domain": [-0.35, 9.04], "nice": false, "zero": false}}, "text": {"field": "t"}}}
]}
], "spacing": 0}
], "spacing": -10}
],
"spacing": 23,
"config": {
"view": {"stroke": null},
"title": {"font": "DejaVu Sans", "fontSize": 21, "fontWeight": "bold", "color": "#000000", "anchor": "start", "frame": "group", "baseline": "bottom"},
"axisX": {"grid": true, "gridColor": "#EBEBEB", "gridWidth": 1.1, "domain": false, "ticks": false, "labelFont": "Liberation Sans", "labelFontSize": 14, "labelFontWeight": "bold", "labelColor": "#000000", "labelFlush": false, "titleFont": "Liberation Sans", "titleFontSize": 15, "titleFontWeight": "bold", "titleColor": "#000000", "titlePadding": 4},
"axisY": {"grid": true, "gridColor": "#EBEBEB", "domain": false, "ticks": false, "labelFont": "Liberation Sans", "labelFontSize": 9.5, "labelColor": "#4D4D4D", "labelPadding": 4, "titleAngle": 0, "titleAlign": "left", "titleBaseline": "alphabetic", "titleFont": "Liberation Sans", "titleFontSize": 13, "titleFontWeight": "normal", "titleColor": "#1A1A1A"}
}
}
